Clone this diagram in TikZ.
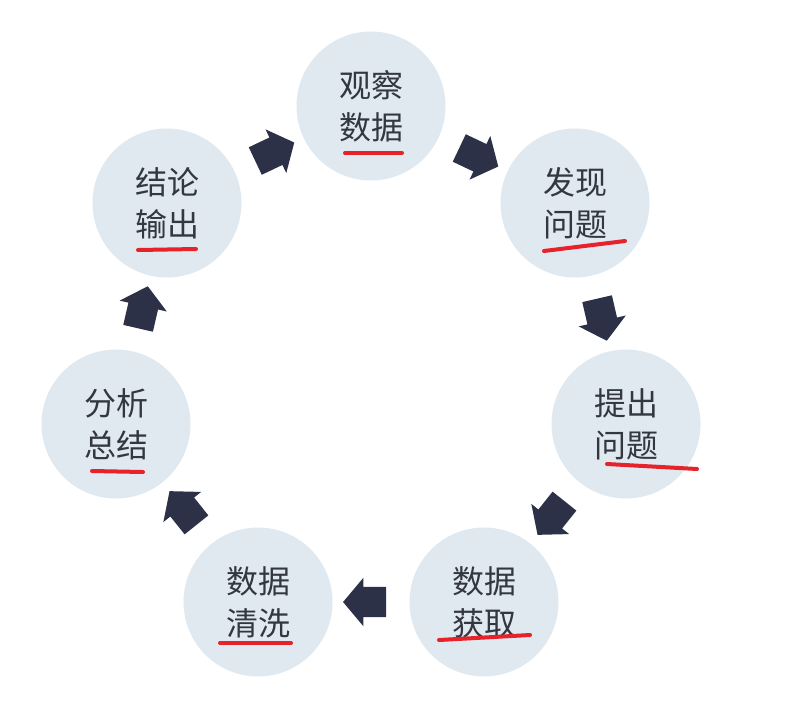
\documentclass[tikz,border=0pt]{standalone}
\usepackage{fontspec}
\setmainfont{Noto Sans CJK SC}
\usetikzlibrary{shapes.arrows,calc}
\definecolor{circfill}{HTML}{E0E9F0}
\definecolor{arrowfill}{HTML}{2D3148}
\definecolor{textgrey}{HTML}{333740}
\definecolor{markred}{HTML}{E6222B}
\begin{document}
\begin{tikzpicture}
		[x=1pt,y=-1pt,
		place/.style={circle,fill=circfill,inner sep=0pt,minimum size=149pt,
text=textgrey,align=center,font=\fontsize{32}{42}\selectfont},
		flow/.style={single arrow,fill=arrowfill,inner sep=15pt,minimum height=40pt,
single arrow head extend=9pt,single arrow tip angle=100},
		redline/.style={markred,line width=4pt,line cap=round}]
		\useasboundingbox (0,0) rectangle (787,713);
		\node at (371,106) (1) [place] {观察\\数据};
		\node at (575,203) (2) [place] {发现\\问题};
		\node at (626,424) (3) [place] {提出\\问题};
		\node at (484,602) (4) [place] {数据\\获取};
		\node at (258,602) (5) [place] {数据\\清洗};
		\node at (116,424) (6) [place] {分析\\总结};
		\node at (167,203) (7) [place] {结论\\输出};
		% arrows between the steps
		\node at ($(1)!0.5!(2)$) (12) [flow,rotate=-25.4] {};
		\node at ($(2)!0.5!(3)$) (23) [flow,rotate=-77] {};
		\node at ($(3)!0.5!(4)$) (34) [flow,rotate=-128.6] {};
		\node at ($(4)!0.5!(5)$) (45) [flow,rotate=180] {};
		\node at ($(5)!0.5!(6)$) (56) [flow,rotate=128.6] {};
		\node at ($(6)!0.5!(7)$) (67) [flow,rotate=77] {};
		\node at ($(7)!0.5!(1)$) (71) [flow,rotate=25.4] {};
		% red marks
		\draw [redline] (345,153) -- (402,153);
		\draw [redline] (544,251) -- (625,241);
		\draw [redline] (607,464) -- (697,469);
		\draw [redline] (439,640) -- (530,635);
		\draw [redline] (220,643) -- (291,643);
		\draw [redline] (92,471) -- (143,472);
		\draw [redline] (138,250) -- (196,249);
	\end{tikzpicture}
\end{document}
